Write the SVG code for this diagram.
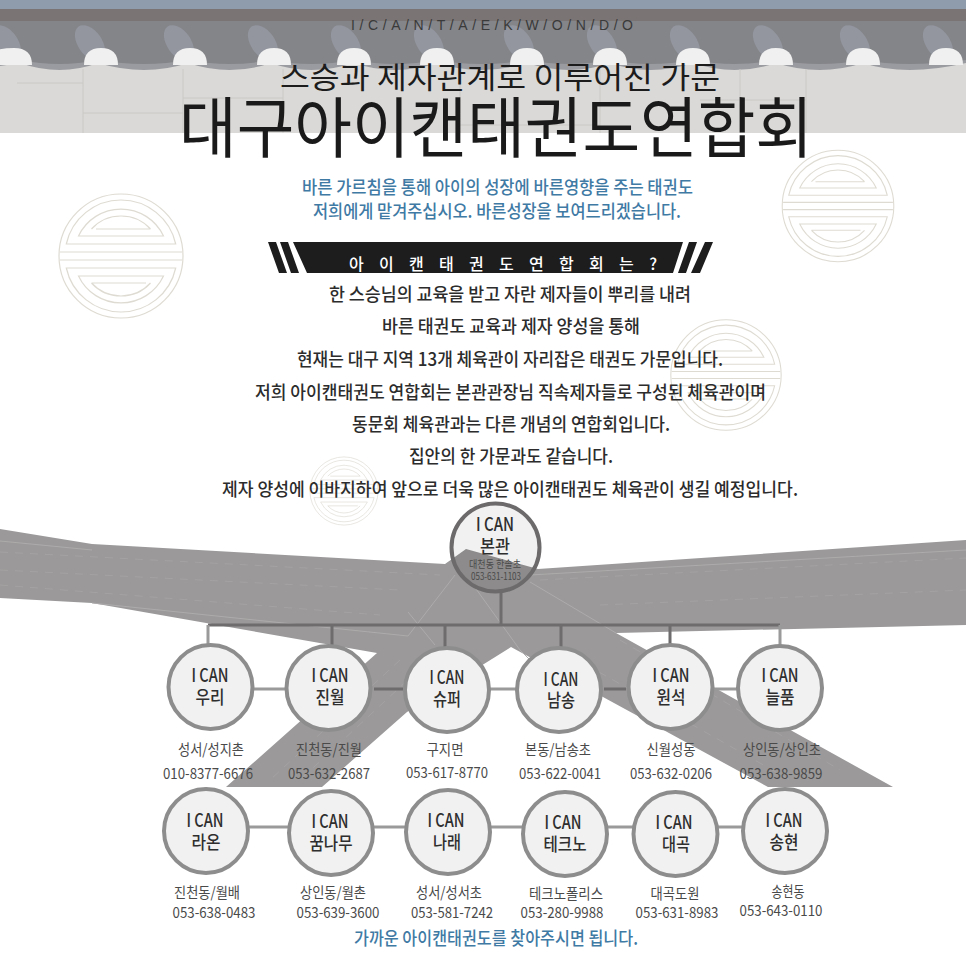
<svg xmlns="http://www.w3.org/2000/svg" xmlns:xlink="http://www.w3.org/1999/xlink" width="966" height="954" viewBox="0 0 966 954">
<style>
text{font-family:"Noto Sans CJK KR","Noto Sans",sans-serif;text-anchor:middle}
.para{font-size:18px;font-weight:500;fill:#2c2c2c}
.blue{font-size:18px;font-weight:500;fill:#3f7aa5}
.ic{font-size:18px;font-weight:500;fill:#2e2e2e}
.nm{font-size:18px;font-weight:500;fill:#2e2e2e}
.sub{font-size:15px;font-weight:400;fill:#4a4a4a}
.ph{font-size:15px;font-weight:400;fill:#4a4a4a}
.n{fill:#f1f1f1;stroke:#8d8d8d;stroke-width:4}
.em{fill:none;stroke:#dedbd2;stroke-width:1.2}
.lnk{stroke:#9a9a9a;stroke-width:3;fill:none}
.lnkd{stroke:#6e6c6c;stroke-width:3;fill:none}
.seam{stroke:#adabab;stroke-width:1;fill:none}
.dash{stroke:#a4a2a2;stroke-width:1;stroke-dasharray:8 7;fill:none}
</style>
<defs>
<g id="emblem" class="em">
<circle r="62"/>
<path d="M-54.7-12A56 56 0 0 1 54.7-12ZM-42.5-20A47 47 0 0 1 42.5-20ZM-29.5-27A40 40 0 0 1 29.5-27M29.5-27H-25"/>
<path d="M54.7 12A56 56 0 0 1-54.7 12ZM42.5 20A47 47 0 0 1-42.5 20ZM29.5 27A40 40 0 0 1-29.5 27M-29.5 27H25"/>
<path d="M-61-4H61M-61 4H61"/>
</g>
<clipPath id="headClip"><circle cx="495.5" cy="547.5" r="43"/></clipPath>
<polygon id="belt" points="0,529 92,544 445,564 466,549 538,569 966,540 966,625 616,633 893,787 768,787 603,697 511,647 407,712 322,787 226,787 377,653 92,603 0,598"/>
</defs>

<g id="roof">
<rect width="966" height="133" fill="#dad9d7"/>
<rect width="966" height="9" fill="#8e9cab"/>
<rect y="9" width="966" height="12" fill="#7a7574"/>
<path d="M0 21H966V63Q905 77 863 63Q820 77 776 63Q735 77 693 63Q650 77 610 63Q570 77 527 63Q480 77 437 63Q395 77 354 63Q310 77 271 63Q230 77 188 63Q145 77 98 63Q60 77 20 63L0 66Z" fill="#9a9ba0"/>
<path d="M0 21H966V60Q905 68 863 60Q820 68 776 60Q735 68 693 60Q650 68 610 60Q570 68 527 60Q480 68 437 60Q395 68 354 60Q310 68 271 60Q230 68 188 60Q145 68 98 60Q60 68 20 60L0 62Z" fill="#848589"/>
<g fill="#93969f">
<ellipse cx="90" cy="43" rx="12" ry="20" transform="rotate(-35 90 43)"/><ellipse cx="179" cy="43" rx="12" ry="20" transform="rotate(-35 179 43)"/><ellipse cx="263" cy="43" rx="12" ry="20" transform="rotate(-35 263 43)"/><ellipse cx="346" cy="43" rx="12" ry="20" transform="rotate(-35 346 43)"/><ellipse cx="429" cy="43" rx="12" ry="20" transform="rotate(-35 429 43)"/><ellipse cx="519" cy="43" rx="12" ry="20" transform="rotate(-35 519 43)"/><ellipse cx="602" cy="43" rx="12" ry="20" transform="rotate(-35 602 43)"/><ellipse cx="685" cy="43" rx="12" ry="20" transform="rotate(-35 685 43)"/><ellipse cx="768" cy="43" rx="12" ry="20" transform="rotate(-35 768 43)"/><ellipse cx="855" cy="43" rx="12" ry="20" transform="rotate(-35 855 43)"/><ellipse cx="938" cy="43" rx="12" ry="20" transform="rotate(-35 938 43)"/><ellipse cx="6" cy="43" rx="12" ry="20" transform="rotate(-35 6 43)"/>
</g>
<g fill="#f0f0f0">
<path d="M-17 65Q-15 48 14 48Q32 48 32 65Z"/>
<path d="M84 65Q84 48 101 48Q118 48 118 65Z"/><path d="M173 65Q173 48 190 48Q207 48 207 65Z"/><path d="M257 65Q257 48 274 48Q291 48 291 65Z"/><path d="M337 65Q337 48 354 48Q371 48 371 65Z"/><path d="M420 65Q420 48 437 48Q454 48 454 65Z"/><path d="M510 65Q510 48 527 48Q544 48 544 65Z"/><path d="M593 65Q593 48 610 48Q627 48 627 65Z"/><path d="M676 65Q676 48 693 48Q710 48 710 65Z"/><path d="M759 65Q759 48 776 48Q793 48 793 65Z"/><path d="M846 65Q846 48 863 48Q880 48 880 65Z"/><path d="M929 65Q929 48 946 48Q963 48 963 65Z"/>
</g>
<path d="M83 69V133M183 69V133M17 83H83M83 113H183M183 98H283M283 69V133M460 69V133M600 69V133M460 125H600M740 69V133M806 69V133M700 100H806" fill="none" stroke="#cbc9c6" stroke-width="1"/>
</g>

<use xlink:href="#emblem" href="#emblem" transform="translate(121 256)"/>
<use xlink:href="#emblem" href="#emblem" transform="translate(838 206) scale(.9)"/>
<use xlink:href="#emblem" href="#emblem" transform="translate(726 375) scale(.89)"/>
<use xlink:href="#emblem" href="#emblem" transform="translate(344 491) scale(.55)"/>

<g id="heading">
<text x="492" y="30" textLength="282" lengthAdjust="spacing" style="font-family:'Liberation Sans',sans-serif;font-size:14px" fill="#3a3a3a">I/C/A/N/T/A/E/K/W/O/N/D/O</text>
<text x="500" y="88" textLength="440" lengthAdjust="spacingAndGlyphs" style="font-size:30px;font-weight:400" fill="#1c1c1c">스승과 제자관계로 이루어진 가문</text>
<text x="496" y="152" textLength="634" lengthAdjust="spacingAndGlyphs" style="font-size:66px;font-weight:400" fill="#1a1a1a">대구아이캔태권도연합회</text>
<text class="blue" x="497.5" y="194" textLength="391" lengthAdjust="spacingAndGlyphs">바른 가르침을 통해 아이의 성장에 바른영향을 주는 태권도</text>
<text class="blue" x="497" y="218" textLength="368" lengthAdjust="spacingAndGlyphs">저희에게 맡겨주십시오. 바른성장을 보여드리겠습니다.</text>
</g>

<g id="banner">
<path d="M268 242H276L287 273H279ZM280 242H288L299 273H291ZM293 242H683L673 273H307ZM678 273H686L697 242H689ZM691 273H700L713 242H705Z" fill="#1d1d1d"/>
<text x="503" y="269.5" textLength="308" lengthAdjust="spacing" style="font-size:16px;font-weight:500" fill="#fff">아 이 캔 태 권 도 연 합 회 는 ?</text>
</g>

<g id="intro">
<text class="para" x="510" y="301" textLength="362" lengthAdjust="spacingAndGlyphs">한 스승님의 교육을 받고 자란 제자들이 뿌리를 내려</text>
<text class="para" x="511" y="333" textLength="258" lengthAdjust="spacingAndGlyphs">바른 태권도 교육과 제자 양성을 통해</text>
<text class="para" x="510" y="366" textLength="426" lengthAdjust="spacingAndGlyphs">현재는 대구 지역 13개 체육관이 자리잡은 태권도 가문입니다.</text>
<text class="para" x="510.5" y="399" textLength="511" lengthAdjust="spacingAndGlyphs">저희 아이캔태권도 연합회는 본관관장님 직속제자들로 구성된 체육관이며</text>
<text class="para" x="511" y="431" textLength="318" lengthAdjust="spacingAndGlyphs">동문회 체육관과는 다른 개념의 연합회입니다.</text>
<text class="para" x="511" y="463" textLength="204" lengthAdjust="spacingAndGlyphs">집안의 한 가문과도 같습니다.</text>
<text class="para" x="510" y="496" textLength="576" lengthAdjust="spacingAndGlyphs">제자 양성에 이바지하여 앞으로 더욱 많은 아이캔태권도 체육관이 생길 예정입니다.</text>
</g>

<g id="belt-shape">
<use xlink:href="#belt" href="#belt" fill="#9b9999"/>
<path class="seam" d="M0 541L92 550M92 603L408 636L455 575M408 612L435 645M466 575L520 650L560 690M530 582L616 633M530 575L966 550"/>
<path class="dash" d="M0 552L440 575M0 570L400 590M0 585L380 615M540 580L966 558M600 605L966 590M620 640L840 770M560 650L790 780M400 660L270 780M440 650L300 780"/>
</g>

<g id="connectors">
<path class="lnkd" d="M501 590V625M208 625H780M332 625V646M445 625V648M561 625V647M670 625V644"/>
<path class="lnk" d="M208 625V644M780 625V645M254 689H286M489 689H516M713 689H737M249 827H288M374 827H405M491 827H522M608 827H633M718 827H742"/>
<path class="lnkd" d="M374 689H403M604 689H626"/>
</g>

<g id="node-head">
<circle cx="495.5" cy="547.5" r="44" fill="#f1f1f1"/>
<use xlink:href="#belt" href="#belt" fill="#8d8b8b" clip-path="url(#headClip)"/>
<circle cx="495.5" cy="547.5" r="44" fill="none" stroke="#6c6a6a" stroke-width="4"/>
<text class="ic" x="495" y="531" textLength="38" lengthAdjust="spacingAndGlyphs">I CAN</text>
<text class="nm" x="495" y="553" textLength="30" lengthAdjust="spacingAndGlyphs">본관</text>
<text x="495" y="568" textLength="52" lengthAdjust="spacingAndGlyphs" style="font-size:10px" fill="#4a4a4a">대천동 한솔초</text>
<text x="496" y="580" textLength="50" lengthAdjust="spacingAndGlyphs" style="font-size:10px" fill="#4a4a4a">053-631-1103</text>
</g>

<g id="node-uri"><circle class="n" cx="210.5" cy="687" r="42"/><text class="ic" x="210" y="682" textLength="37" lengthAdjust="spacingAndGlyphs">I CAN</text><text class="nm" x="210" y="704" textLength="29" lengthAdjust="spacingAndGlyphs">우리</text><text class="sub" x="211" y="755" textLength="66" lengthAdjust="spacingAndGlyphs">성서/성지촌</text><text class="ph" x="208" y="779" textLength="90" lengthAdjust="spacingAndGlyphs">010-8377-6676</text></g>
<g id="node-jinwol"><circle class="n" cx="328.5" cy="688" r="42"/><text class="ic" x="330" y="682" textLength="37" lengthAdjust="spacingAndGlyphs">I CAN</text><text class="nm" x="330" y="704" textLength="29" lengthAdjust="spacingAndGlyphs">진월</text><text class="sub" x="329" y="755" textLength="66" lengthAdjust="spacingAndGlyphs">진천동/진월</text><text class="ph" x="329" y="779" textLength="82" lengthAdjust="spacingAndGlyphs">053-632-2687</text></g>
<g id="node-super"><circle class="n" cx="447" cy="690" r="42"/><text class="ic" x="447" y="684" textLength="35" lengthAdjust="spacingAndGlyphs">I CAN</text><text class="nm" x="447" y="706" textLength="28" lengthAdjust="spacingAndGlyphs">슈퍼</text><text class="sub" x="445" y="755" textLength="37" lengthAdjust="spacingAndGlyphs">구지면</text><text class="ph" x="447" y="778" textLength="82" lengthAdjust="spacingAndGlyphs">053-617-8770</text></g>
<g id="node-namsong"><circle class="n" cx="559" cy="690" r="42"/><text class="ic" x="561" y="686" textLength="35" lengthAdjust="spacingAndGlyphs">I CAN</text><text class="nm" x="561" y="707" textLength="28" lengthAdjust="spacingAndGlyphs">남송</text><text class="sub" x="558" y="755" textLength="66" lengthAdjust="spacingAndGlyphs">본동/남송초</text><text class="ph" x="560" y="779" textLength="82" lengthAdjust="spacingAndGlyphs">053-622-0041</text></g>
<g id="node-wonseok"><circle class="n" cx="670.5" cy="687" r="42"/><text class="ic" x="671" y="682" textLength="37" lengthAdjust="spacingAndGlyphs">I CAN</text><text class="nm" x="671" y="704" textLength="29" lengthAdjust="spacingAndGlyphs">원석</text><text class="sub" x="671" y="755" textLength="49" lengthAdjust="spacingAndGlyphs">신월성동</text><text class="ph" x="671" y="779" textLength="82" lengthAdjust="spacingAndGlyphs">053-632-0206</text></g>
<g id="node-neulpum"><circle class="n" cx="780" cy="688" r="42"/><text class="ic" x="780" y="682" textLength="37" lengthAdjust="spacingAndGlyphs">I CAN</text><text class="nm" x="780" y="704" textLength="29" lengthAdjust="spacingAndGlyphs">늘품</text><text class="sub" x="782" y="755" textLength="78" lengthAdjust="spacingAndGlyphs">상인동/상인초</text><text class="ph" x="781" y="779" textLength="83" lengthAdjust="spacingAndGlyphs">053-638-9859</text></g>

<g id="node-raon"><circle class="n" cx="206" cy="831" r="42"/><text class="ic" x="205" y="827" textLength="37" lengthAdjust="spacingAndGlyphs">I CAN</text><text class="nm" x="206" y="849" textLength="29" lengthAdjust="spacingAndGlyphs">라온</text><text class="sub" x="207" y="898" textLength="66" lengthAdjust="spacingAndGlyphs">진천동/월배</text><text class="ph" x="214" y="918" textLength="83" lengthAdjust="spacingAndGlyphs">053-638-0483</text></g>
<g id="node-kkum"><circle class="n" cx="331" cy="833" r="42"/><text class="ic" x="330" y="828" textLength="37" lengthAdjust="spacingAndGlyphs">I CAN</text><text class="nm" x="331" y="850" textLength="43" lengthAdjust="spacingAndGlyphs">꿈나무</text><text class="sub" x="333" y="898" textLength="66" lengthAdjust="spacingAndGlyphs">상인동/월촌</text><text class="ph" x="338" y="918" textLength="83" lengthAdjust="spacingAndGlyphs">053-639-3600</text></g>
<g id="node-narae"><circle class="n" cx="448" cy="832" r="42"/><text class="ic" x="446" y="827" textLength="37" lengthAdjust="spacingAndGlyphs">I CAN</text><text class="nm" x="447" y="849" textLength="28" lengthAdjust="spacingAndGlyphs">나래</text><text class="sub" x="449" y="898" textLength="66" lengthAdjust="spacingAndGlyphs">성서/성서초</text><text class="ph" x="452" y="918" textLength="82" lengthAdjust="spacingAndGlyphs">053-581-7242</text></g>
<g id="node-techno"><circle class="n" cx="565" cy="834" r="42"/><text class="ic" x="563" y="829" textLength="37" lengthAdjust="spacingAndGlyphs">I CAN</text><text class="nm" x="565" y="851" textLength="43" lengthAdjust="spacingAndGlyphs">테크노</text><text class="sub" x="566" y="899" textLength="74" lengthAdjust="spacingAndGlyphs">테크노폴리스</text><text class="ph" x="562" y="918" textLength="83" lengthAdjust="spacingAndGlyphs">053-280-9988</text></g>
<g id="node-daegok"><circle class="n" cx="675.5" cy="834" r="42"/><text class="ic" x="674" y="829" textLength="37" lengthAdjust="spacingAndGlyphs">I CAN</text><text class="nm" x="676" y="851" textLength="28" lengthAdjust="spacingAndGlyphs">대곡</text><text class="sub" x="675" y="899" textLength="49" lengthAdjust="spacingAndGlyphs">대곡도원</text><text class="ph" x="677" y="918" textLength="83" lengthAdjust="spacingAndGlyphs">053-631-8983</text></g>
<g id="node-songhyeon"><circle class="n" cx="785" cy="831" r="42"/><text class="ic" x="784" y="827" textLength="37" lengthAdjust="spacingAndGlyphs">I CAN</text><text class="nm" x="784" y="849" textLength="29" lengthAdjust="spacingAndGlyphs">송현</text><text class="sub" x="788" y="897" textLength="33" lengthAdjust="spacingAndGlyphs">송현동</text><text class="ph" x="781" y="916" textLength="83" lengthAdjust="spacingAndGlyphs">053-643-0110</text></g>

<text class="blue" x="496" y="945" textLength="284" lengthAdjust="spacingAndGlyphs">가까운 아이캔태권도를 찾아주시면 됩니다.</text>
</svg>
